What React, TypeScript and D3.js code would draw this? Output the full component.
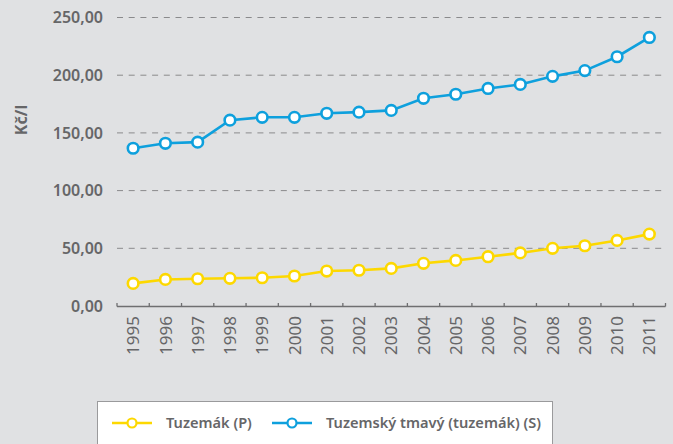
import React, { useRef, useEffect } from "react";
import * as d3 from "d3";

const years = ["1995", "1996", "1997", "1998", "1999", "2000", "2001", "2002", "2003", "2004", "2005", "2006", "2007", "2008", "2009", "2010", "2011"];
const tuzemak = [19.6, 23, 23.6, 24, 24.5, 26, 30.3, 31, 32.6, 37, 39.5, 42.7, 46, 50, 52.2, 56.8, 62.3];
const tuzemskyTmavy = [136.7, 141, 142, 161, 163.5, 163.5, 167, 168, 169.5, 180, 183.5, 188.5, 192, 199, 204, 216, 232.7];
const yTicks = [0, 50, 100, 150, 200, 250];
const seriesNames = ["Tuzemák (P)", "Tuzemský tmavý (tuzemák) (S)"];

const W = 673;
const H = 444;
const colors = ["#fdd800", "#0ea0dd"];
const textColor = "#666668";
const font = "'Noto Sans', sans-serif";

const App: React.FC = () => {
  const svgRef = useRef<SVGSVGElement | null>(null);

  useEffect(() => {
    const svg = d3.select(svgRef.current);
    svg.selectAll("*").remove();

    svg.append("rect").attr("width", W).attr("height", H).attr("fill", "#e0e1e3");

    const x = d3.scaleBand().domain(years).range([117, 665.5]);
    const y = d3.scaleLinear().domain([0, 250]).range([306, 17.5]);

    // grid lines + y labels
    const fmt = (v: number) => d3.format(".2f")(v).replace(".", ",");
    yTicks.forEach((t) => {
      if (t > 0) {
        svg
          .append("line")
          .attr("x1", 117)
          .attr("x2", 665.5)
          .attr("y1", y(t))
          .attr("y2", y(t))
          .attr("stroke", "#8a8a8c")
          .attr("stroke-width", 1)
          .attr("stroke-dasharray", "6,5.7");
      }
      svg
        .append("text")
        .attr("x", 103)
        .attr("y", y(t))
        .attr("dy", "0.36em")
        .attr("text-anchor", "end")
        .attr("font-family", font)
        .attr("font-weight", 600)
        .attr("font-size", 16)
        .attr("fill", textColor)
        .text(fmt(t));
    });

    // y axis title
    svg
      .append("text")
      .attr("transform", `translate(27,120) rotate(-90)`)
      .attr("text-anchor", "middle")
      .attr("font-family", font)
      .attr("font-weight", 700)
      .attr("font-size", 16)
      .attr("fill", textColor)
      .text("Kč/l");

    // x axis
    const axis = svg.append("g");
    axis
      .append("line")
      .attr("x1", 117)
      .attr("x2", 665.5)
      .attr("y1", 306.5)
      .attr("y2", 306.5)
      .attr("stroke", "#6f6f71")
      .attr("stroke-width", 1.3);
    const bounds = years.map((d) => x(d)!).concat([x.range()[1]]);
    bounds.forEach((b) => {
      axis
        .append("line")
        .attr("x1", b)
        .attr("x2", b)
        .attr("y1", 306.5)
        .attr("y2", 303)
        .attr("stroke", "#6f6f71")
        .attr("stroke-width", 1.3);
    });
    years.forEach((yr) => {
      axis
        .append("text")
        .attr("transform", `translate(${x(yr)! + x.bandwidth() / 2},316) rotate(-90)`)
        .attr("dy", "0.36em")
        .attr("text-anchor", "end")
        .attr("font-family", font)
        .attr("font-size", 17)
        .attr("fill", textColor)
        .text(yr);
    });

    // series
    const cx = (i: number) => x(years[i])! + x.bandwidth() / 2;
    [tuzemak, tuzemskyTmavy].forEach((vals, si) => {
      const line = d3
        .line<number>()
        .x((_, i) => cx(i))
        .y((d) => y(d));
      svg
        .append("path")
        .datum(vals)
        .attr("d", line)
        .attr("fill", "none")
        .attr("stroke", colors[si])
        .attr("stroke-width", 2.6);
      svg
        .selectAll(`circle.s${si}`)
        .data(vals)
        .enter()
        .append("circle")
        .attr("class", `s${si}`)
        .attr("cx", (_, i) => cx(i))
        .attr("cy", (d) => y(d))
        .attr("r", 5.3)
        .attr("fill", "#fff")
        .attr("stroke", colors[si])
        .attr("stroke-width", 2.6);
    });

    // legend
    svg
      .append("rect")
      .attr("x", 97.5)
      .attr("y", 401.5)
      .attr("width", 455)
      .attr("height", 60)
      .attr("fill", "#fff")
      .attr("stroke", "#9a9a9c")
      .attr("stroke-width", 1);
    const items = [
      { x0: 112, tx: 166 },
      { x0: 272, tx: 326 },
    ];
    items.forEach((it, i) => {
      svg
        .append("line")
        .attr("x1", it.x0)
        .attr("x2", it.x0 + 40)
        .attr("y1", 423)
        .attr("y2", 423)
        .attr("stroke", colors[i])
        .attr("stroke-width", 2.4);
      svg
        .append("circle")
        .attr("cx", it.x0 + 20)
        .attr("cy", 423)
        .attr("r", 4.5)
        .attr("fill", "#fff")
        .attr("stroke", colors[i])
        .attr("stroke-width", 2.2);
      svg
        .append("text")
        .attr("x", it.tx)
        .attr("y", 423)
        .attr("dy", "0.36em")
        .attr("font-family", font)
        .attr("font-weight", 600)
        .attr("font-size", 14.6)
        .attr("fill", textColor)
        .text(seriesNames[i]);
    });
  }, []);

  return (
    <svg
      ref={svgRef}
      width={W}
      height={H}
      style={{ position: "fixed", top: 0, left: 0, display: "block" }}
    ></svg>
  );
};

export default App;
